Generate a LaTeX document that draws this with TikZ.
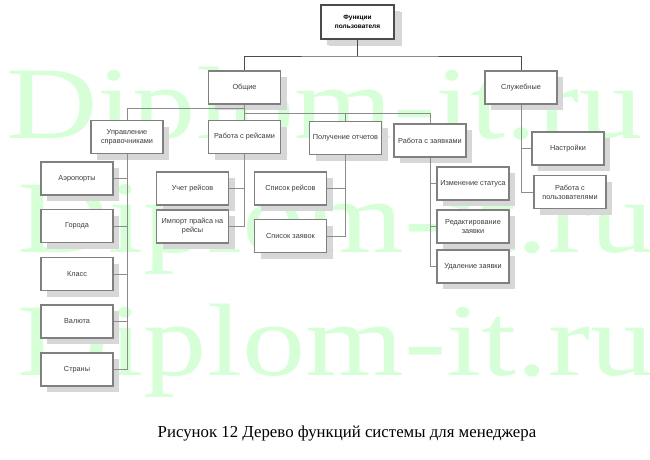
\documentclass[tikz,border=0pt]{standalone}
\usepackage{fontspec}
\setmainfont{Liberation Serif}
\newfontfamily\boxfont{Liberation Sans}
\usetikzlibrary{shadows}

\definecolor{wmgreen}{RGB}{215,255,215}
\definecolor{boxgray}{RGB}{128,128,128}
\definecolor{rootgray}{RGB}{75,75,75}
\definecolor{shadowgray}{RGB}{215,215,215}
\definecolor{textgray}{RGB}{60,60,60}
\definecolor{linegray}{RGB}{140,140,140}

\tikzset{
  func/.style={draw=boxgray, line width=1.5pt, fill=white, minimum width=72pt,
    minimum height=33pt, align=center, inner sep=1pt, text=textgray,
    font=\boxfont\fontsize{7.3}{9}\selectfont,
    general shadow={fill=shadowgray, shadow xshift=6pt, shadow yshift=-6pt}},
  rootfunc/.style={func, draw=rootgray, minimum width=73pt, minimum height=34pt,
    font=\boxfont\bfseries\fontsize{6.5}{8.5}\selectfont, text=black,
    general shadow={fill=shadowgray, shadow xshift=8pt, shadow yshift=-7pt}},
  toplink/.style={draw=rootgray, line width=0.9pt},
  link/.style={draw=linegray, line width=0.8pt},
  wmark/.style={text=wmgreen, anchor=base west, inner sep=0pt,
    font=\fontsize{103}{103}\selectfont}
}

\begin{document}
\begin{tikzpicture}[x=1pt, y=-1pt]
  \useasboundingbox (0,0) rectangle (650,460);
  % watermark
  \foreach \x/\y in {6/138, 17/252, 17/375}
    \node[wmark] (wm\y) at (\x,\y) {\scalebox{1.23}[1]{Diplom-it.ru}};
  % top level
  \node[rootfunc] (root) at (357.5,22) {Функции\\пользователя};
  \node[func] (general) at (244.5,87.5) {Общие};
  \node[func] (service) at (521,87.5) {Служебные};
  % second level
  \node[func] (refs) at (127,137) {Управление\\справочниками};
  \node[func] (flights) at (244.5,137) {Работа с рейсами};
  \node[func] (reports) at (345.5,138) {Получение отчетов};
  \node[func] (orders) at (430,140.5) {Работа с заявками};
  \node[func] (settings) at (568,148.5) {Настройки};
  \node[func] (users) at (570,192) {Работа с\\пользователями};
  % reference books
  \node[func] (airports) at (77,178.5) {Аэропорты};
  \node[func] (cities) at (77,226) {Города};
  \node[func] (classes) at (77,274) {Класс};
  \node[func] (currency) at (77,321.5) {Валюта};
  \node[func] (countries) at (77,369.5) {Страны};
  % flights and reports
  \node[func] (fcount) at (192.5,188.5) {Учет рейсов};
  \node[func] (fimport) at (192.5,226.5) {Импорт прайса на\\рейсы};
  \node[func] (flist) at (290.5,188.5) {Список рейсов};
  \node[func] (olist) at (290.5,236) {Список заявок};
  % orders
  \node[func] (ostatus) at (473,183.5) {Изменение статуса};
  \node[func] (oedit) at (473,226.5) {Редактирование\\заявки};
  \node[func] (odelete) at (473,266.5) {Удаление заявки};
  % links from the root
  \coordinate (rootbus) at (357.5,56);
  \draw[toplink] (root.south) -- (rootbus);
  \draw[toplink] (general.north) |- (rootbus) -| (service.north);
  % links from general
  \coordinate (leftbus) at (244.5,108);
  \coordinate (rightbus) at (244.5,113);
  \draw[link] (general.south) -- (leftbus) -| (refs.north);
  \draw[link] (leftbus) -- (flights.north);
  \draw[link] (rightbus) -| (reports.north);
  \draw[link] (rightbus) -| (orders.north);
  % links to the leaves
  \foreach \n in {airports, cities, classes, currency, countries}
    \draw[link] (refs.south) |- (\n.east);
  \foreach \n in {fcount, fimport} \draw[link] (flights.south) |- (\n.east);
  \foreach \n in {flist, olist} \draw[link] (reports.south) |- (\n.east);
  \foreach \n in {ostatus, oedit, odelete} \draw[link] (orders.south) |- (\n.west);
  \foreach \n in {settings, users} \draw[link] (service.south) |- (\n.west);
  % caption
  \node[font=\fontsize{16.8}{20}\selectfont, anchor=base] (caption) at (347,437)
    {Рисунок 12 Дерево функций системы для менеджера};
\end{tikzpicture}
\end{document}
